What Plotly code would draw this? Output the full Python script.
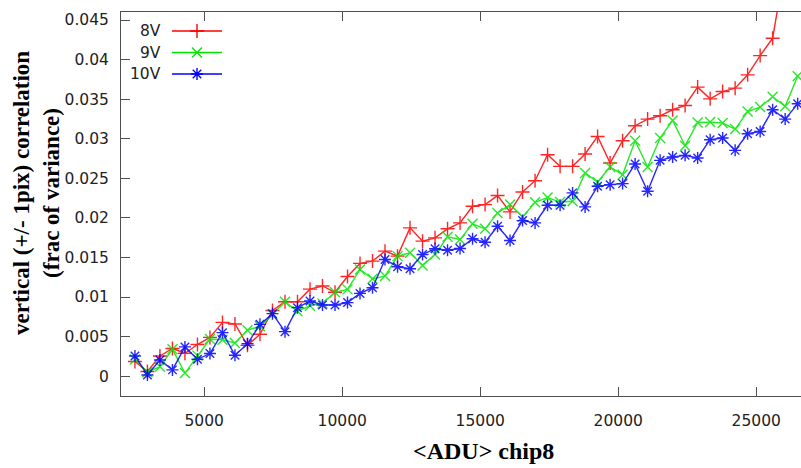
import plotly.graph_objects as go

# ---- data ----
adu = [2490, 2943, 3396, 3849, 4302, 4755, 5208, 5661, 6114, 6567,
       7020, 7473, 7926, 8379, 8832, 9285, 9738, 10191, 10644, 11097,
       11550, 12003, 12456, 12909, 13362, 13815, 14268, 14721, 15174, 15627,
       16080, 16533, 16986, 17439, 17892, 18345, 18798, 19251, 19704, 20157,
       20610, 21063, 21516, 21969, 22422, 22875, 23328, 23781, 24234, 24687,
       25140, 25593, 26046, 26499]

corr_8v = [0.00185, 0.0006, 0.00256, 0.0035, 0.0029, 0.0040, 0.0049, 0.0068, 0.0066, 0.0039,
           0.0053, 0.0083, 0.0094, 0.0094, 0.0110, 0.0114, 0.0106, 0.0126, 0.01425, 0.01454,
           0.0158, 0.01517, 0.01874, 0.01706, 0.01748, 0.01862, 0.01937, 0.02147, 0.02168, 0.02282,
           0.02076, 0.02328, 0.0247, 0.02798, 0.02651, 0.02651, 0.02807, 0.03029, 0.02693, 0.02975,
           0.03164, 0.03248, 0.0329, 0.03366, 0.0342, 0.03652, 0.03504, 0.03596, 0.03639, 0.03807,
           0.0405, 0.0427, 0.052, 0.061]

corr_9v = [0.0021, 0.0005, 0.0012, 0.0034, 0.0004, 0.0026, 0.0047, 0.0046, 0.0042, 0.0058,
           0.0063, 0.0078, 0.0094, 0.0082, 0.0089, 0.0092, 0.0106, 0.01097, 0.01349, 0.01231,
           0.01265, 0.01517, 0.01559, 0.0140, 0.01538, 0.01761, 0.01727, 0.01925, 0.01862, 0.02063,
           0.02168, 0.02013, 0.02197, 0.02258, 0.0220, 0.0221, 0.02568, 0.02454, 0.02643, 0.02546,
           0.02975, 0.02643, 0.03009, 0.03231, 0.02912, 0.03206, 0.0321, 0.03198, 0.03122, 0.03344,
           0.0340, 0.0353, 0.0341, 0.0379]

corr_10v = [0.00256, 0.00016, 0.00205, 0.0008, 0.0037, 0.00214, 0.00286, 0.0055, 0.00265, 0.0041,
            0.00655, 0.0079, 0.00563, 0.00866, 0.0095, 0.0090, 0.0090, 0.0093, 0.01046, 0.01118,
            0.01475, 0.01383, 0.01358, 0.01538, 0.0161, 0.01592, 0.01613, 0.01736, 0.01693, 0.01895,
            0.01714, 0.01966, 0.01937, 0.0216, 0.0216, 0.02316, 0.02139, 0.02399, 0.0242, 0.02433,
            0.02681, 0.02336, 0.02727, 0.02769, 0.0279, 0.02757, 0.02988, 0.03009, 0.02853, 0.03063,
            0.03092, 0.03366, 0.03248, 0.03441]

series_names = ["8V", "9V", "10V"]
x_ticks = [5000, 10000, 15000, 20000, 25000]
x_tick_labels = ["5000", "10000", "15000", "20000", "25000"]
y_ticks = [0, 0.005, 0.01, 0.015, 0.02, 0.025, 0.03, 0.035, 0.04, 0.045]
y_tick_labels = ["0", "0.005", "0.01", "0.015", "0.02", "0.025", "0.03", "0.035", "0.04", "0.045"]

# ---- style ----
colors = ["#ff0000", "#00e600", "#0000ff"]
symbols = ["cross-thin-open", "x-thin-open", "asterisk-open"]
tick_font = dict(family="DejaVu Sans", size=15.5, color="#222222")
axis_col = "#505050"

W, H = 801, 468
ML, MR, MT, MB = 121, 0, 12, 72

fig = go.Figure()
for name, ys, c, s in zip(series_names, [corr_8v, corr_9v, corr_10v], colors, symbols):
    fig.add_trace(go.Scatter(
        x=adu, y=ys, mode="lines+markers", name=name,
        line=dict(color=c, width=1.4),
        marker=dict(symbol=s, size=10, color=c, line=dict(color=c, width=1.4)),
        showlegend=False, opacity=0.85))

# ---- custom legend (text right-aligned, sample on the right), pixel-based overlay axes ----
pw, ph = W - ML - MR, H - MT - MB
leg_rows = [19, 40.5, 62]          # px from top of plot area
leg_text_right = 42                 # px from left of plot area
leg_line = (51, 101)
for name, c, s, ry in zip(series_names, colors, symbols, leg_rows):
    fig.add_trace(go.Scatter(
        x=list(leg_line), y=[ry, ry], xaxis="x2", yaxis="y2", mode="lines",
        line=dict(color=c, width=1.4), showlegend=False, hoverinfo="skip"))
    fig.add_trace(go.Scatter(
        x=[(leg_line[0] + leg_line[1]) / 2], y=[ry], xaxis="x2", yaxis="y2", mode="markers",
        marker=dict(symbol=s, size=10, color=c, line=dict(color=c, width=1.4)),
        showlegend=False, hoverinfo="skip"))
    fig.add_annotation(x=leg_text_right, y=ry, xref="x2", yref="y2", text=name,
                       showarrow=False, xanchor="right", yanchor="middle",
                       font=tick_font)

fig.update_layout(
    template="none",
    width=W, height=H,
    margin=dict(l=ML, r=MR, t=MT, b=MB, pad=0, autoexpand=False),
    paper_bgcolor="white", plot_bgcolor="white",
    showlegend=False,
    xaxis=dict(range=[1985, 26620], tickvals=x_ticks, ticktext=x_tick_labels,
               ticks="inside", ticklen=9, tickwidth=1,
               tickcolor=axis_col, showline=True, linecolor=axis_col, linewidth=1,
               mirror="ticks", showgrid=False, zeroline=False, tickfont=tick_font,
               ticklabelstandoff=10, automargin=False),
    yaxis=dict(range=[-0.0025, 0.04601], tickvals=y_ticks, ticktext=y_tick_labels,
               ticks="inside", ticklen=9, tickwidth=1,
               tickcolor=axis_col, showline=True, linecolor=axis_col, linewidth=1,
               mirror=False, showgrid=False, zeroline=False, tickfont=tick_font,
               ticklabelstandoff=8, automargin=False),
    xaxis2=dict(overlaying="x", range=[0, pw], visible=False, fixedrange=True, automargin=False),
    yaxis2=dict(overlaying="y", range=[ph, 0], visible=False, fixedrange=True, automargin=False),
)

fig.add_annotation(x=483, y=H - 451, xref="paper", yref="paper", text="<b>&lt;ADU&gt; chip8</b>",
                   showarrow=False, xanchor="center", yanchor="middle",
                   font=dict(family="Liberation Serif", size=24, color="black"))
fig.add_annotation(x=36, y=H - 193, xref="paper", yref="paper",
                   text="<b>vertical (+/- 1pix) correlation</b><br><b>(frac of variance)</b>",
                   showarrow=False, textangle=-90, xanchor="center", yanchor="middle",
                   font=dict(family="Liberation Serif", size=23, color="black"))

# convert pixel positions of the title annotations to paper coordinates
for a in fig.layout.annotations:
    if a.xref == "paper":
        a.x = (a.x - ML) / pw
        a.y = (a.y - MB) / ph

fig.write_html("out.html", config={"displayModeBar": False},
               post_script="document.body.style.margin='0';document.body.style.overflow='hidden';")
